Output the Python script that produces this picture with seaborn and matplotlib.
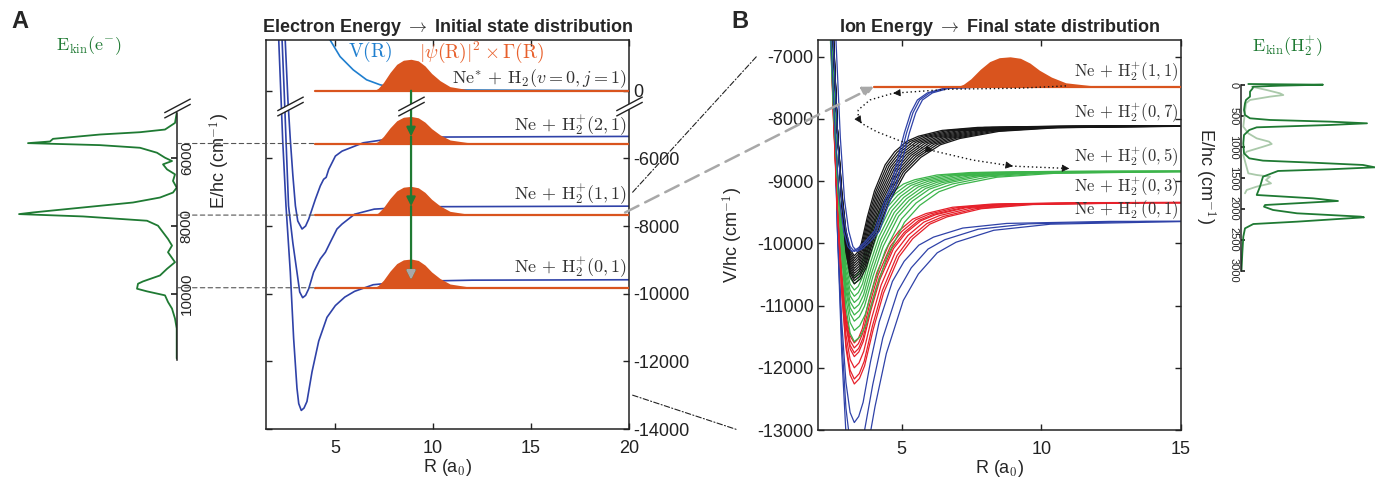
import numpy as np
import matplotlib
matplotlib.use('Agg')
import matplotlib.pyplot as plt
from matplotlib.patches import ConnectionPatch
from matplotlib.path import Path
import seaborn as sns

# ===== 1. DATA =====
# Panel A has a broken energy axis: the 0 cm-1 level is drawn at -4000
top_level = -4000
levelA_V = [top_level, -5560, -7676, -9824]      # orange initial-state lines
humpA_height = [930, 800, 850, 850]              # |psi|^2 x Gamma humps
labelA_V = [-3650, -5000, -7060, -9210]
labelA_txt = [r'$\mathrm{Ne}^{*}\,+\,\mathrm{H}_2(v=0,j=1)$',
              r'$\mathrm{Ne}\,+\,\mathrm{H}_2^{+}(2,1)$',
              r'$\mathrm{Ne}\,+\,\mathrm{H}_2^{+}(1,1)$',
              r'$\mathrm{Ne}\,+\,\mathrm{H}_2^{+}(0,1)$']

# Ne + H2+ potential curves in panel A
potA_21_R = [2.46, 2.60, 2.72, 2.85, 2.98, 3.10, 3.32, 3.50, 3.66, 4.00, 4.25, 4.42, 4.55, 4.68, 5.02, 5.36, 6.44, 7.80, 10.0, 20.0]
potA_21_V = [-2500, -4300, -5441, -6500, -7403, -7850, -8088, -8000, -7794, -7206, -6814, -6618, -6560, -6324, -5931, -5785, -5539, -5421, -5370, -5350]
potA_11_R = [2.30, 2.42, 2.50, 2.63, 2.85, 3.06, 3.20, 3.35, 3.50, 3.66, 3.91, 4.25, 4.51, 4.76, 5.10, 5.36, 6.00, 7.00, 9.00, 20.0]
potA_11_V = [-2500, -4200, -5441, -7403, -8500, -9362, -9950, -10118, -10050, -9853, -9362, -8971, -8775, -8480, -8088, -7941, -7650, -7500, -7430, -7412]
potA_01_R = [2.13, 2.33, 2.50, 2.72, 2.89, 3.06, 3.15, 3.28, 3.42, 3.57, 3.83, 4.17, 4.59, 5.02, 5.50, 6.00, 6.95, 8.65, 12.0, 20.0]
potA_01_V = [-2500, -5441, -7403, -9362, -11324, -12794, -13250, -13451, -13380, -13186, -12304, -11400, -10700, -10350, -10100, -9930, -9735, -9638, -9600, -9588]

# Ne* + H2 potential V(R), relative to its own asymptote
VR_R = [4.55, 4.75, 5.26, 5.93, 6.61, 7.30, 8.00, 9.00, 20.0]
VR_V = [1800, 1500, 1009, 618, 324, 176, 80, 30, 0]

# hump profile (peak normalised to 1)
hump_R = [7.00, 7.21, 7.47, 7.81, 8.15, 8.49, 8.88, 9.25, 9.59, 9.93, 10.36, 10.87, 11.72, 12.91]
hump_shape = [0.0, 0.08, 0.26, 0.58, 0.84, 0.97, 1.0, 0.95, 0.79, 0.55, 0.32, 0.13, 0.04, 0.0]

# green vertical transition arrow in A
arrowA_R = 8.88
arrowA_V = [top_level, -5350, -7412, -9588]

# electron kinetic energy spectrum (E in cm-1, intensity arb.)
specA_E = [4657, 4951, 5147, 5226, 5294, 5422, 5500, 5549, 5608, 5686, 5833, 5980, 6078, 6176, 6324, 6471,
           6667, 6863, 7010, 7157, 7304, 7451, 7598, 7647, 7716, 7843, 7990, 8186, 8382, 8578, 8775, 9069,
           9265, 9461, 9637, 9706, 9853, 9931, 10049, 10245, 10441, 10735, 11029, 11912]
specA_I = [0.3, 2, 12, 37, 77, 124, 127, 149, 77, 37, 20, 12, 5, 14, 10, 2,
           4, 0.3, 4, 17, 44, 94, 144, 158, 94, 30, 19, 14, 9, 5, 9, 2,
           10, 17, 34, 39, 40, 30, 12, 9, 5, 2, 0.3, 0.3]
specA_lines = [-5560, -7676, -9824]

# panel B levels
levelB_11 = -7480
labelB_V = [-7242, -7903, -8613, -9100, -9470]
labelB_txt = [r'$\mathrm{Ne}\,+\,\mathrm{H}_2^{+}(1,1)$',
              r'$\mathrm{Ne}\,+\,\mathrm{H}_2^{+}(0,7)$',
              r'$\mathrm{Ne}\,+\,\mathrm{H}_2^{+}(0,5)$',
              r'$\mathrm{Ne}\,+\,\mathrm{H}_2^{+}(0,3)$',
              r'$\mathrm{Ne}\,+\,\mathrm{H}_2^{+}(0,1)$']
humpB_height = 480

# common well profile for the panel B curves (1 at the minimum, 0 at the asymptote)
shape_R = np.array([2.25, 2.45, 2.55, 2.70, 2.85, 3.00, 3.15, 3.30, 3.45, 3.60, 3.85, 4.15, 4.60, 5.00, 5.50, 6.00, 7.00, 8.50, 12.0, 20.0])
shape_s = np.array([-3.0, -1.2, -0.6, 0.05, 0.50, 0.80, 0.95, 1.00, 0.97, 0.90, 0.70, 0.50, 0.30, 0.20, 0.12, 0.08, 0.035, 0.012, 0.002, 0.0])
shape_Rmin = 3.30

black_inf = -8110
black_min = [-10200, -10240, -10280, -10320, -10360, -10400, -10440, -10480, -10520, -10560, -10600, -10650]
black_w = [0.85, 0.90, 0.95, 1.00, 1.05, 1.10, 1.15, 1.20, 1.25, 1.30, 1.35, 1.40]
green_inf = -8840
green_min = [-10550, -10650, -10750, -10850, -10950, -11050, -11150, -11250, -11400, -11580]
green_w = [0.80, 0.86, 0.92, 0.98, 1.04, 1.10, 1.16, 1.22, 1.30, 1.38]
red_inf = -9340
red_min = [-11600, -11680, -11760, -11820, -12000, -12180, -12260]
red_w = [0.95, 1.00, 1.05, 1.08, 1.13, 1.18, 1.23]
blue01_inf = -9640
blue01_min = [-12880, -13400, -13900]
blue01_w = [1.05, 1.20, 1.35]

# the three (1,1) curves in B, one read curve + small R shifts
blue11_R = np.array([2.25, 2.45, 2.55, 2.70, 2.85, 3.00, 3.15, 3.30, 3.50, 3.75, 4.10, 4.40, 4.68, 4.90, 5.17, 5.40, 5.64, 6.00, 6.60, 8.00, 15.0])
blue11_V = [-1500, -5500, -6800, -8300, -9300, -9800, -10050, -10130, -10080, -9980, -9800, -9400, -9097, -8700, -8226, -7900, -7694, -7580, -7505, -7485, -7480]
blue11_shift = [-0.08, 0.0, 0.10]

# dotted loop (trajectory) in B
loop_R = [10.88, 9.21, 6.71, 4.69, 3.86, 3.44, 3.44, 3.56, 4.10, 5.17, 6.12, 7.55, 8.98, 11.0]
loop_V = [-7468, -7505, -7521, -7586, -7694, -7855, -7989, -8070, -8204, -8392, -8511, -8661, -8758, -8796]
loop_heads = [3, 7, 10, 12, 13]

# ion kinetic energy spectrum
specB_E = [-16, -5, 11, 27, 54, 108, 188, 242, 296, 404, 485, 538, 565, 592, 619, 646, 684, 727, 808, 942,
           1104, 1185, 1222, 1255, 1292, 1330, 1362, 1389, 1481, 1642, 1777, 1831, 1874, 1939, 1966, 2019,
           2073, 2127, 2138, 2208, 2246, 2316, 2450, 2719, 2989]
specB_I = [7.3, 82, 39, 12, 11.7, 9, 9, 5, 4, 3, 4, 9, 29, 89, 126, 89, 15.7, 8.3, 3, 2.3,
           3, 8.3, 22, 72, 122, 134, 89, 37, 22, 19, 15.7, 72, 97, 24, 23, 32,
           56, 120, 123, 56, 12.3, 4, 2.3, 1.3, 0.5]
specB_light_E = [27, 81, 135, 162, 188, 242, 296, 673, 781, 862, 915, 953, 996, 1077, 1131, 1427, 1454,
                 1481, 1535, 1589, 1642, 1696, 1750]
specB_light_I = [10.7, 25.7, 39, 42.3, 29, 9, 5, 2.3, 7.3, 15.7, 28, 30.7, 22.3, 5.7, 2.3, 7.3, 15.7,
                 29, 25, 30, 15.7, 5.7, 4]

# ===== 2. STYLE =====
sns.set_theme(style='ticks')
plt.rcParams['font.family'] = ['Liberation Sans', 'DejaVu Sans']
plt.rcParams['mathtext.fontset'] = 'cm'
plt.rcParams['axes.unicode_minus'] = False
plt.rcParams['axes.linewidth'] = 1.1
plt.rcParams['axes.edgecolor'] = '#222222'

c_orange = '#d9541e'
c_blue = '#2f42a8'
c_lblue = '#1f7fcf'
c_green = '#1f7a33'
c_lgreen = '#aac9aa'
c_black = '#151515'
c_bgreen = '#3cb44a'
c_red = '#e6202a'
c_gray = '#a8a8a8'
serif_fs = 13

W, H = 1375, 482
fig = plt.figure(figsize=(W / 100, H / 100), dpi=100)


def box(x0, y0, x1, y1):
    return [x0 / W, 1 - y1 / H, (x1 - x0) / W, (y1 - y0) / H]


axA = fig.add_axes(box(266, 40, 629, 429))
axB = fig.add_axes(box(818, 40, 1181, 430))
axL = fig.add_axes(box(0, 40, 177, 429))
axR = fig.add_axes(box(1241, 40, 1375, 430))
for ax in (axL, axR):
    ax.patch.set_alpha(0)

# break marker "//" with white gap
brk_gap = Path([(-1, -0.73), (1, 0.33), (1, 0.73), (-1, -0.33), (-1, -0.73)])
brk_lines = Path([(-1, -0.73), (1, 0.33), (-1, -0.33), (1, 0.73)],
                 [Path.MOVETO, Path.LINETO, Path.MOVETO, Path.LINETO])


def draw_break(ax, x, y):
    ax.plot(x, y, ls='none', marker=brk_gap, ms=19, mfc='white', mec='none', clip_on=False, zorder=8)
    ax.plot(x, y, ls='none', marker=brk_lines, ms=19, mfc='none', mec='#222222', mew=1.0,
            clip_on=False, zorder=9)


def style_box(ax):
    ax.tick_params(direction='in', length=4, width=1.0, top=True, right=True, labelsize=13,
                   colors='#222222', pad=3)
    ax.tick_params(axis='x', pad=8)


# ===== 3. PANEL A =====
for r, v in [(potA_21_R, potA_21_V), (potA_11_R, potA_11_V), (potA_01_R, potA_01_V)]:
    sns.lineplot(x=r, y=v, ax=axA, color=c_blue, lw=1.2, sort=False, estimator=None)
sns.lineplot(x=VR_R, y=np.array(VR_V) + top_level, ax=axA, color=c_lblue, lw=1.2,
             sort=False, estimator=None)
for base, h in zip(levelA_V, humpA_height):
    axA.fill_between(hump_R, base, base + h * np.array(hump_shape), color=c_orange, lw=0, zorder=3)
    axA.plot([4, 20], [base, base], color=c_orange, lw=1.6, zorder=3)
for lab, y in zip(labelA_txt, labelA_V):
    axA.text(19.9, y, lab, ha='right', va='center', fontsize=serif_fs, color='#333333', zorder=6)
axA.text(6.8, -2850, r'$\mathrm{V(R)}$', color=c_lblue, fontsize=serif_fs + 1, ha='center', va='center')
axA.text(12.5, -2850, r'$|\psi(\mathrm{R})|^2\times\Gamma(\mathrm{R})$', color='#e8602c',
         fontsize=serif_fs + 1, ha='center', va='center')

# transition arrow
for i in range(3):
    axA.annotate('', xy=(arrowA_R, arrowA_V[i + 1]), xytext=(arrowA_R, arrowA_V[i]),
                 arrowprops=dict(arrowstyle='-|>', color=c_green, lw=1.6, shrinkA=0, shrinkB=0,
                                 mutation_scale=13), zorder=7)
axA.annotate('', xy=(arrowA_R, arrowA_V[3]), xytext=(arrowA_R, arrowA_V[3] + 250),
             arrowprops=dict(arrowstyle='-|>', color=c_gray, lw=1.6, shrinkA=0, shrinkB=0,
                             mutation_scale=13), zorder=7)

axA.set_xlim(1.48, 20)
axA.set_ylim(-14000, -2500)
axA.set_xticks([5, 10, 15, 20])
axA.set_yticks([top_level, -6000, -8000, -10000, -12000, -14000])
axA.set_yticklabels(['0', '-6000', '-8000', '-10000', '-12000', '-14000'])
style_box(axA)
axA.tick_params(labelleft=False, labelright=True)
axA.set_xlabel(r'R (a$_\mathsf{0}$)', fontsize=13, labelpad=0)
axA.set_ylabel('')
axA.set_title(r'Electron Energy $\rightarrow$ Initial state distribution', fontsize=13,
              fontweight='bold', pad=6)
for x in (2.68, arrowA_R, 20):
    draw_break(axA, x, -4440)

# ===== 4. LEFT INSET : electron spectrum =====
sns.lineplot(x=specA_I, y=-np.array(specA_E), ax=axL, color=c_green, lw=1.3, sort=False,
             estimator=None, orient='y')
axL.set_xlim(177, 0)
axL.set_ylim(-14000, -2500)
for s in ('left', 'top', 'bottom'):
    axL.spines[s].set_visible(False)
axL.spines['right'].set_bounds(-11970, -4650)
axL.yaxis.tick_right()
axL.set_xticks([])
axL.set_yticks([-6000, -8000, -10000])
axL.set_yticklabels(['6000', '8000', '10000'], rotation=90, va='center')
axL.tick_params(axis='y', direction='in', length=4, labelsize=11, pad=2)
axL.set_xlabel('')
axL.set_ylabel(r'E/hc (cm$^{\mathsf{-1}}$)', fontsize=13, rotation=90)
axL.yaxis.set_label_position('right')
axL.yaxis.set_label_coords(1.17, 0.69)
axL.text(0.5, 0.985, r'$\mathrm{E_{kin}(e^{-})}$', transform=axL.transAxes, color=c_green,
         fontsize=serif_fs, ha='center', va='center')
draw_break(axL, 0, -4500)
for v in specA_lines:
    fig.add_artist(ConnectionPatch((0, v), (4, v), 'data', 'data', axesA=axL, axesB=axA,
                                   color='#555555', lw=0.8, ls=(0, (4, 3)), zorder=1))

# ===== 5. PANEL B =====


def bundle(ax, e_inf, mins, widths, color):
    for vmin, w in zip(mins, widths):
        r = np.where(shape_R > shape_Rmin, shape_Rmin + (shape_R - shape_Rmin) * w, shape_R)
        v = e_inf - (e_inf - vmin) * shape_s
        ax.plot(r, v, color=color, lw=0.9)


bundle(axB, blue01_inf, blue01_min, blue01_w, c_blue)
bundle(axB, red_inf, red_min, red_w, c_red)
bundle(axB, green_inf, green_min, green_w, c_bgreen)
bundle(axB, black_inf, black_min, black_w, c_black)
for sh in blue11_shift:
    axB.plot(blue11_R + sh, blue11_V, color=c_blue, lw=0.9)

axB.fill_between(hump_R, levelB_11, levelB_11 + humpB_height * np.array(hump_shape), color=c_orange,
                 lw=0, zorder=3)
axB.plot([4, 15], [levelB_11, levelB_11], color=c_orange, lw=1.6, zorder=3)
for lab, y in zip(labelB_txt, labelB_V):
    axB.text(14.9, y, lab, ha='right', va='center', fontsize=serif_fs - 1, color='#333333', zorder=6)

axB.plot(loop_R, loop_V, color=c_black, lw=1.0, ls=(0, (1, 2)), zorder=5)
for i in loop_heads:
    tip = (loop_R[i], loop_V[i])
    back = (loop_R[i] - 0.1 * (loop_R[i] - loop_R[i - 1]), loop_V[i] - 0.1 * (loop_V[i] - loop_V[i - 1]))
    axB.annotate('', xy=tip, xytext=back,
                 arrowprops=dict(arrowstyle='-|>', color=c_black, lw=0.6, shrinkA=0, shrinkB=0,
                                 mutation_scale=11), zorder=6)

axB.set_xlim(2, 15)
axB.set_ylim(-13000, -6730)
axB.set_xticks([5, 10, 15])
axB.set_yticks([-7000, -8000, -9000, -10000, -11000, -12000, -13000])
style_box(axB)
axB.set_xlabel(r'R (a$_\mathsf{0}$)', fontsize=13, labelpad=0)
axB.set_ylabel(r'V/hc (cm$^{\mathsf{-1}}$)', fontsize=13)
axB.yaxis.set_label_coords(-0.2, 0.5)
axB.set_title(r'Ion Energy $\rightarrow$ Final state distribution', fontsize=13, fontweight='bold', pad=6)

# ===== 6. RIGHT INSET : ion spectrum =====
sns.lineplot(x=specB_light_I, y=specB_light_E, ax=axR, color=c_lgreen, lw=1.3, sort=False,
             estimator=None, orient='y')
sns.lineplot(x=specB_I, y=specB_E, ax=axR, color=c_green, lw=1.3, sort=False, estimator=None,
             orient='y')
axR.set_xlim(0, 134)
axR.set_ylim(5574, -727)
for s in ('right', 'top', 'bottom'):
    axR.spines[s].set_visible(False)
axR.spines['left'].set_bounds(0, 3000)
axR.set_xticks([])
axR.set_yticks([0, 500, 1000, 1500, 2000, 2500, 3000])
axR.set_yticklabels(['0', '500', '1000', '1500', '2000', '2500', '3000'], rotation=270, va='center')
axR.tick_params(axis='y', direction='in', length=3, labelsize=8, pad=2)
axR.set_xlabel('')
axR.set_ylabel(r'E/hc (cm$^{\mathsf{-1}}$)', fontsize=13, rotation=270, va='center')
axR.yaxis.set_label_coords(-0.27, 0.65)
axR.text(0.35, 0.985, r'$\mathrm{E_{kin}(H_2^{+})}$', transform=axR.transAxes, color=c_green,
         fontsize=serif_fs, ha='center', va='center')

# ===== 7. CONNECTORS =====
fig.add_artist(ConnectionPatch((19.8, -7600), (4.0, levelB_11), 'data', 'data', axesA=axA, axesB=axB,
                               arrowstyle='-|>', color=c_gray, lw=1.8, ls=(0, (6, 3)),
                               mutation_scale=16, zorder=10))
for va, xb in [(-7000, -0.17), (-13000, -0.22)]:
    fig.add_artist(ConnectionPatch((1.01, va), (xb, va), axA.get_yaxis_transform(),
                                   axB.get_yaxis_transform(), color='#222222', lw=0.8,
                                   ls=(0, (5, 2, 1, 2)), zorder=10))

fig.text(20 / W, 1 - 22 / H, 'A', fontsize=17, fontweight='bold', ha='center', va='center')
fig.text(740 / W, 1 - 22 / H, 'B', fontsize=17, fontweight='bold', ha='center', va='center')

fig.savefig('out.png', dpi=100)
